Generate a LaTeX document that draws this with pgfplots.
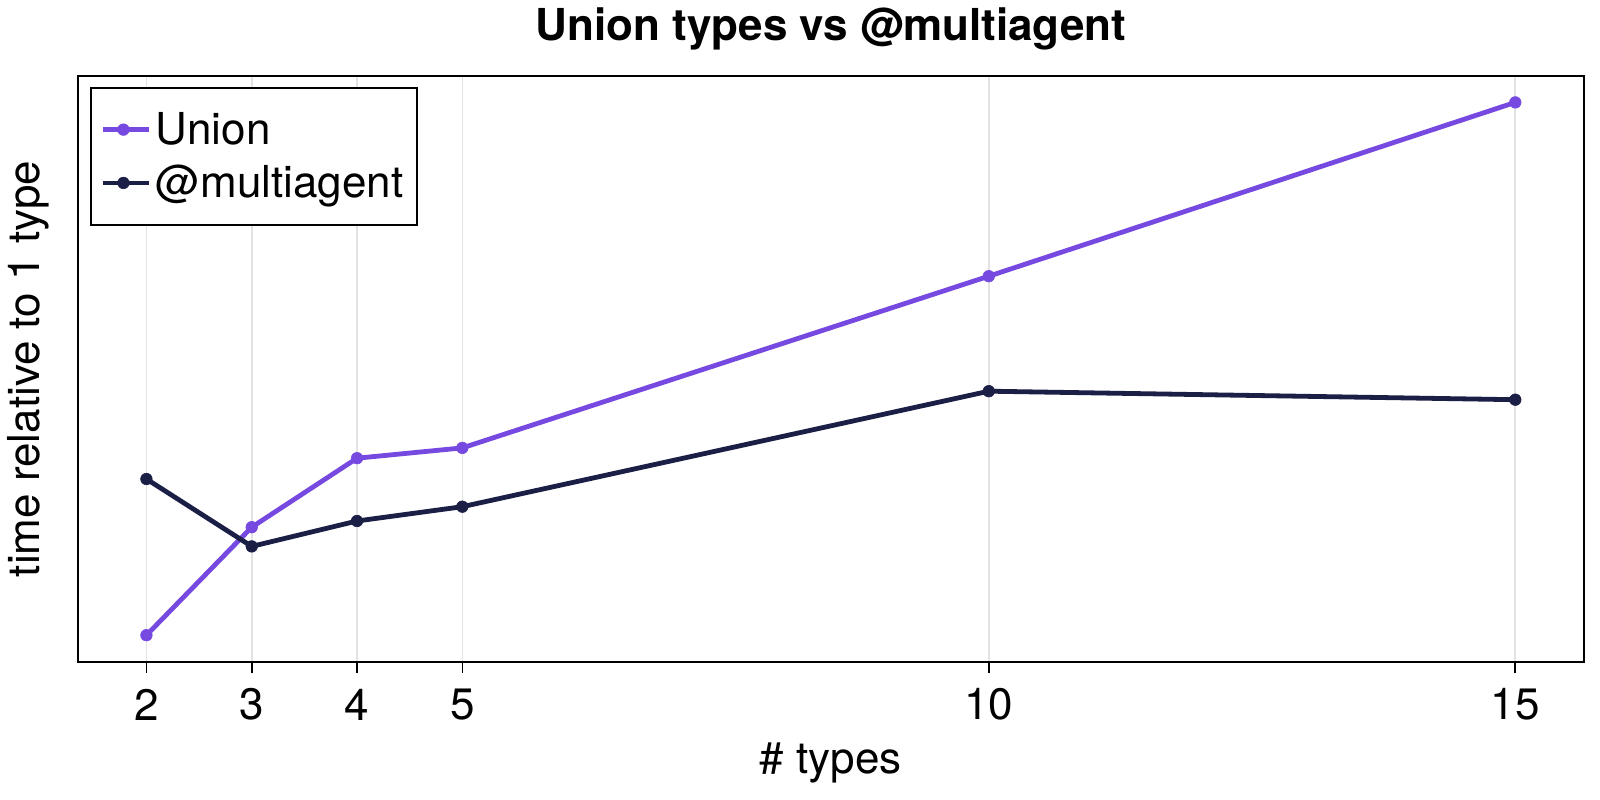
\documentclass[border=0pt]{standalone}
\usepackage{fontspec}
\setmainfont{TeX Gyre Heros}
\usepackage{pgfplots}
\pgfplotsset{compat=1.18}

\definecolor{unioncol}{HTML}{764AE0}
\definecolor{multicol}{HTML}{1B1E45}

% y values are positions (no y scale is shown)
\pgfplotstableread{
n   union   multi
2   26.5    182.7
3   134.5   115.3
4   203.5   140.7
5   213.8   155.0
10  385.5   270.5
15  559.3   262.0
}\timings

\begin{document}
\begin{tikzpicture}
\useasboundingbox (-39bp,-69.15bp) rectangle (761bp,330.85bp);
\begin{axis}[
    scale only axis,
    width=752.85bp, height=292.85bp,
    xmin=1.35, xmax=15.65,
    ymin=0, ymax=585.7,
    xtick={2,3,4,5,10,15},
    ytick=\empty,
    xtick pos=bottom,
    xtick align=outside,
    major tick length=5.5bp,
    xmajorgrids,
    grid style={black!11, line width=0.8bp},
    axis line style={line width=1bp},
    every tick/.style={black, line width=0.8bp},
    /pgf/number format/assume math mode=true,
    font=\fontsize{22bp}{26bp}\selectfont,
    title={\bfseries Union types vs @multiagent},
    title style={at={(axis description cs:0.5,1.0598)}, anchor=center},
    xlabel={\# types},
    xlabel style={at={(axis description cs:0.5,-0.173)}, anchor=center},
    ylabel={time relative to 1 type},
    ylabel style={at={(axis description cs:-0.0328,0.5)}, anchor=center, rotate=0},
    xticklabel style={anchor=center, yshift=-16bp},
    legend cell align=left,
    legend style={
        at={(axis description cs:0.008,0.981)}, anchor=north west,
        draw=black, line width=1bp,
        inner xsep=5bp, inner ysep=10bp,
        row sep=5bp,
        font=\fontsize{22bp}{26bp}\selectfont,
    },
    legend image code/.code={
        \path (0bp,0bp) -- (23bp,0bp);
        \draw[mark repeat=2, mark phase=2] plot coordinates {(0bp,0bp) (10bp,0bp) (20bp,0bp)};
    },
    every axis plot/.append style={line width=2.4bp, mark=*, mark size=2.9bp,
        mark options={solid, line width=0.3bp}},
]
\addplot[unioncol] table[x=n, y=union] {\timings};
\addlegendentry{Union}
\addplot[multicol] table[x=n, y=multi] {\timings};
\addlegendentry{@multiagent}
\end{axis}
\end{tikzpicture}
\end{document}
